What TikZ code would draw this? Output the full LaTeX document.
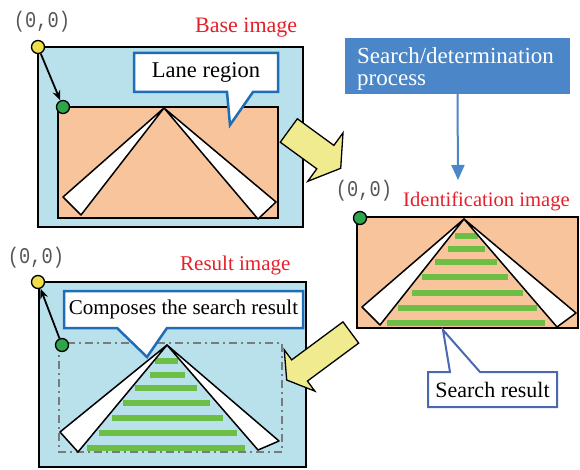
\documentclass[tikz,border=0pt]{standalone}
\usepackage{fontspec}
\usepackage{graphicx}
\setmainfont{Liberation Serif}
\newfontfamily\coordfont{Liberation Mono}
\usetikzlibrary{calc,arrows.meta}

\definecolor{skyfill}{HTML}{B9E1EB}
\definecolor{peach}{HTML}{F8C49C}
\definecolor{dotyellow}{HTML}{EEE04A}
\definecolor{dotgreen}{HTML}{2EA44B}
\definecolor{stripe}{HTML}{6CBE45}
\definecolor{labelred}{HTML}{E5202A}
\definecolor{procblue}{HTML}{4A86C8}
\definecolor{calloutblue}{HTML}{1F6DB6}
\definecolor{resultblue}{HTML}{4C68B1}
\definecolor{arrowyellow}{HTML}{EFEB8E}
\definecolor{coordgray}{HTML}{555555}
\definecolor{dashgray}{HTML}{7A7A7A}

% block arrow: tail point, tip point, shaft half-width, head half-width, head length
\newcommand\blockarrow[5]{%
  \coordinate (ba-base) at ($(#2)!#5!(#1)$);
  \draw[fatarrow] ($(#1)!#3!90:(#2)$) -- ($(ba-base)!#3!90:(#2)$)
    -- ($(ba-base)!#4!90:(#2)$) -- (#2) -- ($(ba-base)!#4!-90:(#2)$)
    -- ($(ba-base)!#3!-90:(#2)$) -- ($(#1)!#3!-90:(#2)$) -- cycle;
}

\tikzset{
  imgframe/.style={rectangle, draw=black, line width=2.5pt, inner sep=0pt},
  wedge/.style={draw=black, fill=white, line width=1.5pt, line join=round},
  stripeline/.style={draw=stripe, line width=5.5pt},
  dotnode/.style={circle, draw=black, line width=1.3pt, minimum size=13pt, inner sep=0pt},
  ydot/.style={dotnode, fill=dotyellow},
  gdot/.style={dotnode, fill=dotgreen},
  leadarrow/.style={-{Stealth[length=10pt,width=8pt]}, line width=1.8pt},
  redlabel/.style={text=labelred, anchor=base west, inner sep=0pt, font=\fontsize{22}{22}\selectfont},
  origintext/.style={text=coordgray, inner sep=0pt, font=\fontsize{18.7}{19}\coordfont},
  bubbleline/.style={draw=calloutblue, line width=2.5pt, fill=white, line join=miter},
  bubbletext/.style={text=black, inner sep=0pt, font=\fontsize{22}{22}\selectfont},
  fatarrow/.style={draw=black, line width=1.3pt, fill=arrowyellow, line join=miter},
  procbox/.style={rectangle, fill=procblue, inner sep=0pt},
  proctext/.style={text=white, inner sep=0pt, align=left, font=\fontsize{23}{22}\selectfont},
  procarrow/.style={-{Triangle[length=15pt,width=13pt]}, draw=procblue, line width=2pt},
  frameguide/.style={draw=dashgray, line width=2pt, dash pattern=on 8pt off 4pt on 2pt off 4pt},
}

\begin{document}
\begin{tikzpicture}[x=1pt,y=-1pt]
\useasboundingbox (0,0) rectangle (580,470);
\fill[white] (0,0) rectangle (580,470);

% ---------- base image ----------
\node[redlabel] (baselbl) at (195,33) {Base image};
\node[imgframe, fill=skyfill, minimum width=265pt, minimum height=180pt] (base) at (170.5,137) {};
\node[imgframe, fill=peach, minimum width=220pt, minimum height=111pt] (baselane) at (168,162.5) {};
\draw[wedge] (164,108) -- (63,197) -- (81,215) -- cycle;
\draw[wedge] (164,108) -- (258,219) -- (276,202) -- cycle;
\draw[bubbleline] (134,53) -- (278,53) -- (278,92) -- (253,92) -- (230,125) -- (227,92) -- (134,92) -- cycle
  node[bubbletext, font=\fontsize{22.5}{22}\selectfont] (lane) at (206,72.5) {Lane region};
\node[ydot] (y1) at (38,47) {};
\node[gdot] (g1) at (63,107) {};
\draw[leadarrow] (y1) -- (g1);
\node[origintext] (o1) at (42,22) {\scalebox{1}[1.2]{(0,0)}};

% ---------- search / determination ----------
\node[procbox, minimum width=225pt, minimum height=56pt] (search) at (457.5,66) {};
\node[proctext, anchor=north west] (searchtxt) at (357,47) {Search/determination\\process};
\coordinate (searchend) at (458,180);
\draw[procarrow] (search.south) -- (searchend);

% ---------- identification image ----------
\node[redlabel, font=\fontsize{20.6}{21}\selectfont] (identlbl) at (403,207) {Identification image};
\node[imgframe, fill=peach, minimum width=221pt, minimum height=111pt] (ident) at (467.5,272.5) {};
\foreach \yy/\xa/\xb in {236/455/478, 249/448/485, 262/435/497, 277/422/508, 293/412/523, 308/398/537, 323/387/545}
  \draw[stripeline] (\xa,\yy) -- (\xb,\yy);
\draw[wedge] (464,219) -- (362,307) -- (380,325) -- cycle;
\draw[wedge] (464,219) -- (557,327) -- (576,313) -- cycle;
\node[gdot] (g2) at (360,218) {};
\node[origintext] (o2) at (364,191) {\scalebox{1}[1.2]{(0,0)}};

% ---------- block arrows ----------
\coordinate (a1tail) at (288.8,130.5);
\coordinate (a1tip) at (340.7,168.3);
\blockarrow{a1tail}{a1tip}{14.5pt}{30pt}{19pt}

% ---------- result image ----------
\node[redlabel, font=\fontsize{21}{21}\selectfont] (resultlbl) at (180,270) {Result image};
\node[imgframe, fill=skyfill, minimum width=267pt, minimum height=185pt] (result) at (172.5,374.5) {};
\draw[frameguide] (59,343) rectangle (282,452);
\foreach \yy/\xa/\xb in {361/155/178, 375/150/185, 388/135/197, 403/123/210, 418/112/223, 433/99/237, 448/87/245}
  \draw[stripeline] (\xa,\yy) -- (\xb,\yy);
\draw[wedge] (167,345) -- (60,432) -- (78,452) -- cycle;
\draw[wedge] (167,345) -- (258,450) -- (279,441) -- cycle;
\draw[bubbleline] (64,291) -- (303,291) -- (303,328) -- (167,328) -- (147,357) -- (117,328) -- (64,328) -- cycle
  node[bubbletext, font=\fontsize{21}{22}\selectfont] (compose) at (183.5,309.5) {Composes the search result};
\node[ydot] (y3) at (38,282) {};
\node[gdot] (g3) at (62,345) {};
\draw[leadarrow] (g3) -- (y3);
\node[origintext] (o3) at (36,258) {\scalebox{1}[1.2]{(0,0)}};

\coordinate (a2tail) at (350.8,332.5);
\coordinate (a2tip) at (286.7,380);
\blockarrow{a2tail}{a2tip}{13.2pt}{25.7pt}{16pt}

% ---------- search result callout ----------
\draw[bubbleline, draw=resultblue, line width=2pt] (428,372) -- (450,372) -- (443,330) -- (480,372) -- (557,372) -- (557,407) -- (428,407) -- cycle
  node[bubbletext] (searchres) at (492.5,389.5) {Search result};
\end{tikzpicture}
\end{document}
